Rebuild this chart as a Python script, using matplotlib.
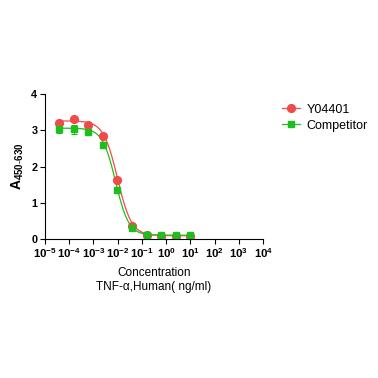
import numpy as np
import matplotlib
matplotlib.use("Agg")
import matplotlib.pyplot as plt

plt.rcParams["font.family"] = ["Liberation Sans", "DejaVu Sans"]
plt.rcParams["mathtext.fontset"] = "custom"
plt.rcParams["mathtext.rm"] = "Liberation Sans"
plt.rcParams["mathtext.bf"] = "Liberation Sans:bold"

# TNF-alpha concentration (ng/ml), 4-fold dilution series
conc = [10, 2.5, 0.625, 0.156, 0.039, 0.0098, 0.00244, 6.1e-4, 1.53e-4, 3.8e-5]
y04401 = [0.09, 0.09, 0.09, 0.11, 0.37, 1.62, 2.83, 3.14, 3.31, 3.21]
y04401_err = [0.01, 0.01, 0.01, 0.01, 0.03, 0.04, 0.04, 0.05, 0.04, 0.05]
competitor = [0.10, 0.10, 0.10, 0.11, 0.31, 1.35, 2.59, 2.96, 3.03, 3.03]
competitor_err = [0.01, 0.01, 0.01, 0.01, 0.03, 0.05, 0.08, 0.09, 0.12, 0.11]

# 4PL fit parameters: bottom, top, EC50, hill
fit_y04401 = (0.09, 3.26, 0.0098, 1.5)
fit_competitor = (0.10, 3.06, 0.0082, 1.6)

x_ticks = [1e-5, 1e-4, 1e-3, 1e-2, 1e-1, 1e0, 1e1, 1e2, 1e3, 1e4]
x_exps = ["-5", "-4", "-3", "-2", "-1", "0", "1", "2", "3", "4"]

C_RED = "#F04A4A"
C_GREEN = "#1CC01C"


def four_pl(x, p):
    bottom, top, ec50, hill = p
    return bottom + (top - bottom) / (1 + (x / ec50) ** hill)


fig = plt.figure(figsize=(3.78, 3.78), dpi=100)
ax = fig.add_axes([0.119, 0.368, 0.577, 0.383])

xs = np.logspace(np.log10(min(conc)), np.log10(max(conc)), 300)
for vals, err, fit, col, mk, ms, lab in ((y04401, y04401_err, fit_y04401, C_RED, "o", 5.6, "Y04401"),
                                         (competitor, competitor_err, fit_competitor, C_GREEN, "s", 5.0, "Competitor")):
    ax.plot(xs, four_pl(xs, fit), color=col, lw=0.9)
    ax.errorbar(conc, vals, yerr=err, fmt=mk, color=col, ms=ms, elinewidth=0.8,
                capsize=2, capthick=0.8, lw=0.9)
    ax.plot([], [], color=col, marker=mk, ms=ms, lw=0.9, label=lab)

ax.set_xscale("log")
ax.set_xlim(1e-5, 1e4)
ax.set_ylim(0, 4)
ax.set_xticks(x_ticks)
ax.set_xticklabels([f"$\\mathbf{{10^{{{e}}}}}$" for e in x_exps])
ax.minorticks_off()
ax.set_yticks([0, 1, 2, 3, 4])
ax.tick_params(axis="x", labelsize=8.2, length=3.5, width=0.8, pad=2)
ax.tick_params(axis="y", labelsize=7.8, length=3.5, width=0.8, pad=2)
for lbl in ax.get_yticklabels():
    lbl.set_fontweight("bold")
for s in ("top", "right"):
    ax.spines[s].set_visible(False)
for s in ("left", "bottom"):
    ax.spines[s].set_linewidth(0.8)

ax.set_ylabel("$\\mathbf{A_{450\\text{-}630}}$", fontsize=10, labelpad=4)
ax.set_xlabel("Concentration\nTNF-α,Human( ng/ml)", fontsize=8.5, labelpad=5)

h, l = ax.get_legend_handles_labels()
fig.legend(h[-2:], l[-2:], loc="upper left", bbox_to_anchor=(0.715, 0.755), frameon=False,
           fontsize=9, handlelength=1.5, handletextpad=0.5, labelspacing=0.3)

fig.savefig("out.png", dpi=100)
